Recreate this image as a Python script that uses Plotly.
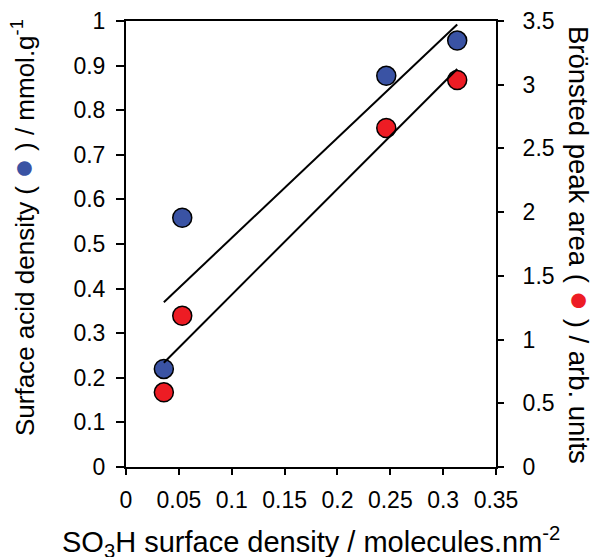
import numpy as np
import plotly.graph_objects as go

# Data
so3h_density = [0.0358, 0.0532, 0.2462, 0.3133]
acid_density = [0.22, 0.559, 0.877, 0.956]
bronsted_area = [0.586, 1.187, 2.66, 3.037]

x_ticks = [0, 0.05, 0.1, 0.15, 0.2, 0.25, 0.3, 0.35]
x_ticktext = ["0", "0.05", "0.1", "0.15", "0.2", "0.25", "0.3", "0.35"]
y_ticks = [0, 0.1, 0.2, 0.3, 0.4, 0.5, 0.6, 0.7, 0.8, 0.9, 1]
y_ticktext = ["0", "0.1", "0.2", "0.3", "0.4", "0.5", "0.6", "0.7", "0.8", "0.9", "1"]
y2_ticks = [0, 0.5, 1, 1.5, 2, 2.5, 3, 3.5]
y2_ticktext = ["0", "0.5", "1", "1.5", "2", "2.5", "3", "3.5"]

BLUE = "#3A53A4"
RED = "#ED1C24"
FONT = "Liberation Sans, Arial, sans-serif"

xs = np.array(so3h_density)
x_line = np.array([xs.min(), xs.max()])
pb = np.polyfit(xs, np.array(acid_density), 1)
pr = np.polyfit(xs, np.array(bronsted_area), 1)

fig = go.Figure()
fig.add_trace(go.Scatter(
    x=so3h_density, y=acid_density, mode="markers", yaxis="y",
    marker=dict(size=19, color=BLUE, line=dict(color="black", width=1.5)),
    showlegend=False))
fig.add_trace(go.Scatter(
    x=x_line, y=np.polyval(pb, x_line), mode="lines", yaxis="y",
    line=dict(color="black", width=2), showlegend=False))
fig.add_trace(go.Scatter(
    x=so3h_density, y=bronsted_area, mode="markers", yaxis="y2",
    marker=dict(size=19, color=RED, line=dict(color="black", width=1.5)),
    showlegend=False))
fig.add_trace(go.Scatter(
    x=x_line, y=np.polyval(pr, x_line), mode="lines", yaxis="y2",
    line=dict(color="black", width=2), showlegend=False))

tickfont = dict(family=FONT, size=23, color="black")

dot = "<span style='color:%s;font-size:34px'>●</span>"

fig.update_layout(
    width=596, height=557,
    margin=dict(l=126, r=100, t=21, b=90, autoexpand=False),
    paper_bgcolor="white", plot_bgcolor="white",
    xaxis=dict(range=[0, 0.35], tickvals=x_ticks, ticktext=x_ticktext,
               showgrid=False, zeroline=False, showline=True, linecolor="black",
               linewidth=2, mirror=True, ticks="outside", ticklen=6, tickwidth=2,
               tickcolor="black", tickfont=tickfont, ticklabelstandoff=5),
    yaxis=dict(range=[0, 1], tickvals=y_ticks, ticktext=y_ticktext,
               showgrid=False, zeroline=False, showline=True, linecolor="black",
               linewidth=2, ticks="outside", ticklen=8, tickwidth=2,
               tickcolor="black", tickfont=tickfont, ticklabelstandoff=6),
    yaxis2=dict(range=[0, 3.5], tickvals=y2_ticks, ticktext=y2_ticktext,
                overlaying="y", side="right",
                showgrid=False, zeroline=False, showline=True, linecolor="black",
                linewidth=2, ticks="outside", ticklen=6, tickwidth=2,
                tickcolor="black", tickfont=tickfont, ticklabelstandoff=14),
    annotations=[
        dict(text="SO<sub>3</sub>H surface density / molecules.nm<sup>-2</sup>",
             xref="paper", yref="paper", x=0.5, y=0, yshift=-75,
             xanchor="center", yanchor="middle", showarrow=False,
             font=dict(family=FONT, size=29, color="black")),
        dict(text="Surface acid density ( " + dot % BLUE + " ) / mmol.g<sup>-1</sup>",
             xref="paper", yref="paper", x=0, y=0.5, xshift=-104, yshift=16,
             xanchor="center", yanchor="middle", textangle=-90,
             showarrow=False, font=dict(family=FONT, size=26, color="black")),
        dict(text="Brönsted peak area ( " + dot % RED + " ) / arb. units",
             xref="paper", yref="paper", x=1, y=0.5, xshift=85, yshift=-1,
             xanchor="center", yanchor="middle", textangle=90,
             showarrow=False, font=dict(family=FONT, size=27.5, color="black")),
    ],
)

fig.write_html("out.html", config={"displayModeBar": False},
               post_script="document.body.style.margin='0';document.body.style.overflow='hidden';")
